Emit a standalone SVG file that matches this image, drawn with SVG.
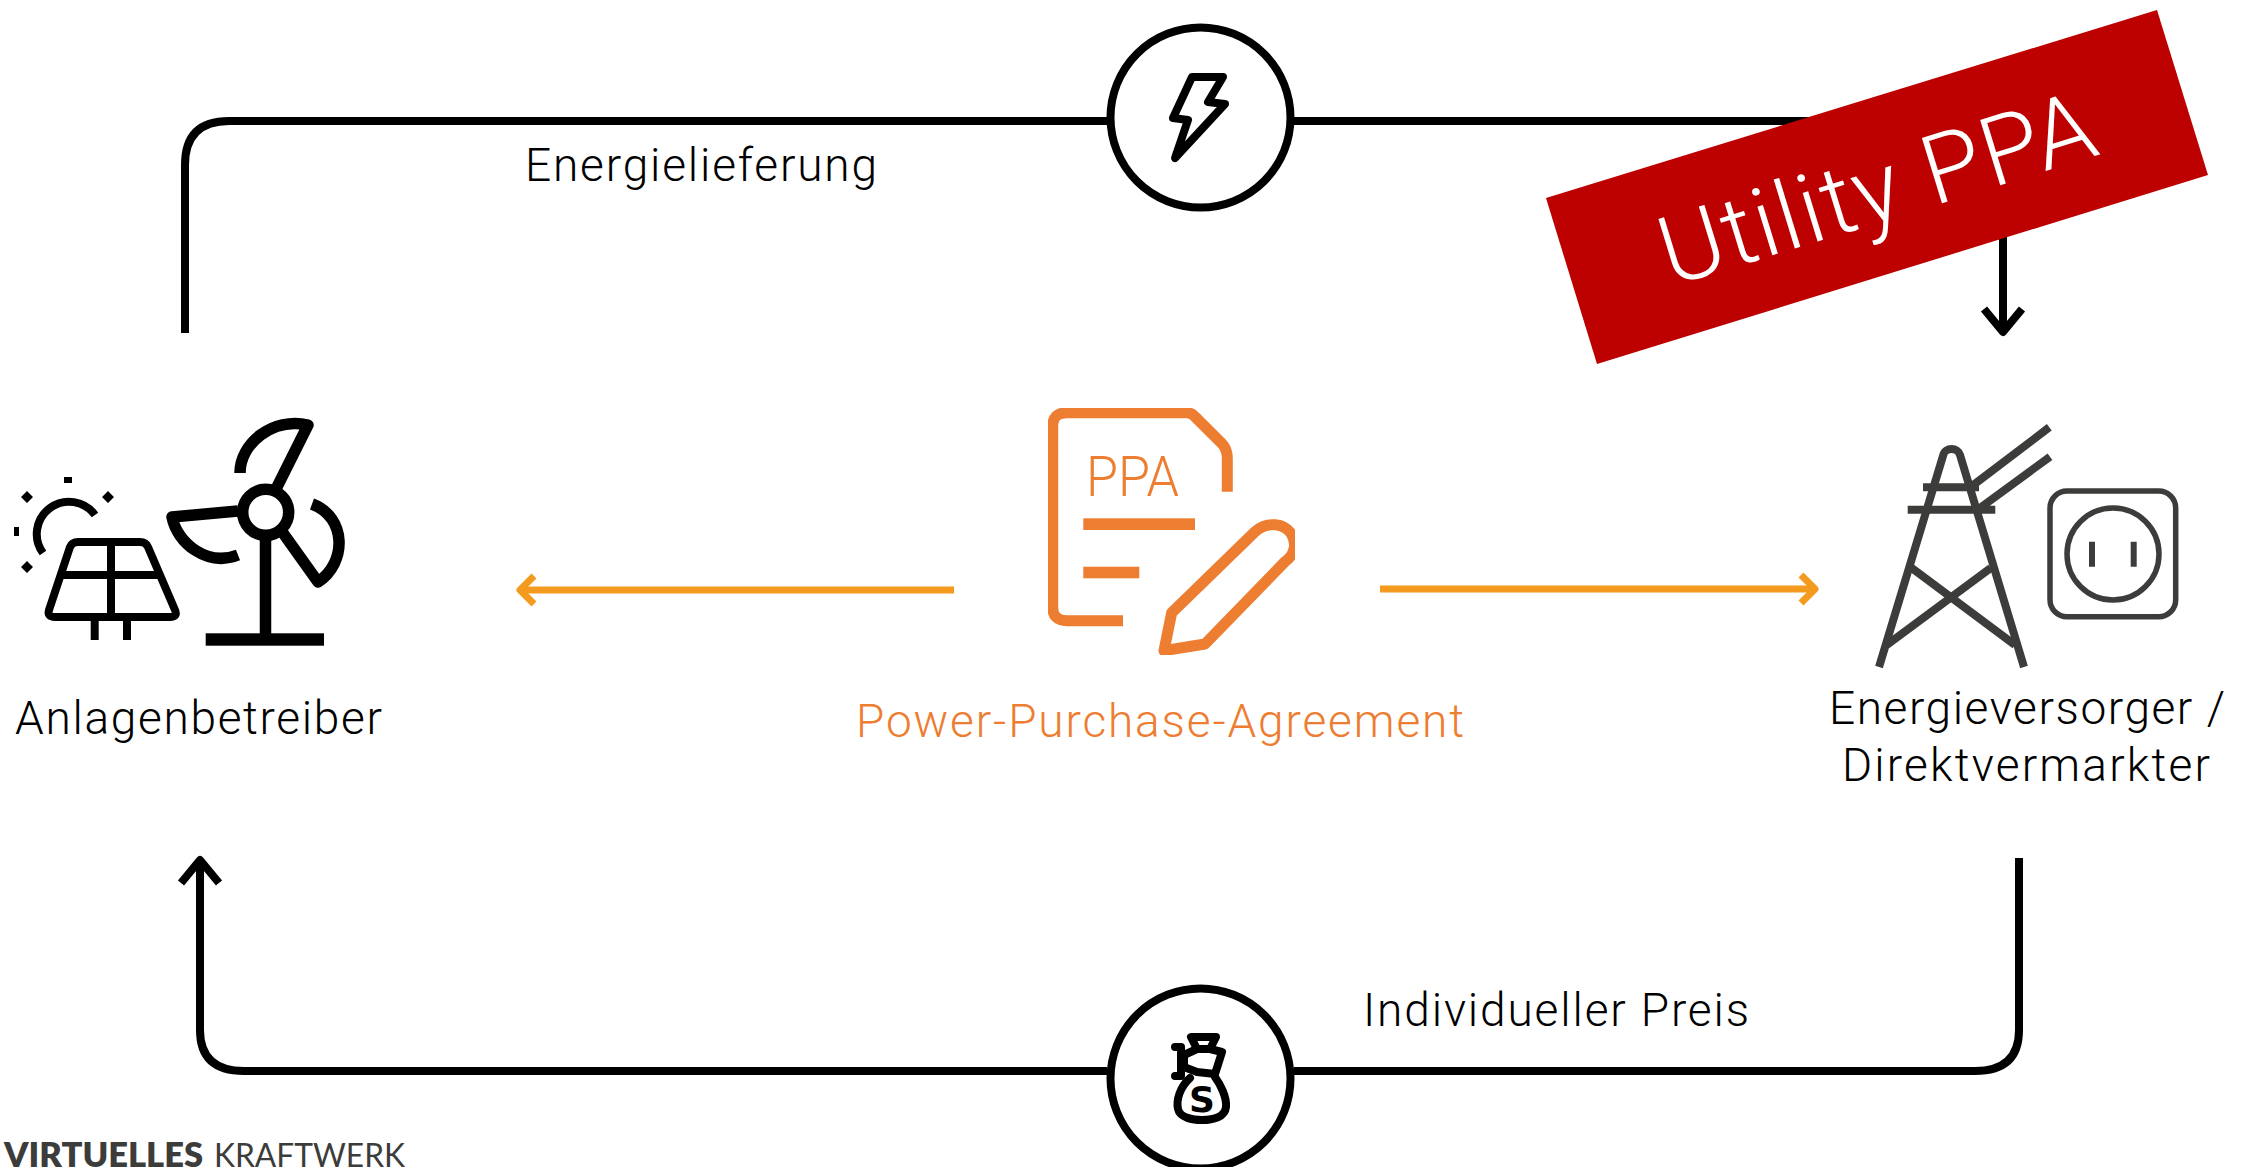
<svg xmlns="http://www.w3.org/2000/svg" width="2255" height="1167" viewBox="0 0 2255 1167">
<style>
.lbl{font-family:Roboto,"Liberation Sans",sans-serif;font-weight:300;font-size:46px;fill:#000}
.or{fill:#ed7d31}
.bk{fill:none;stroke:#000;stroke-width:11.500}
.rnd{stroke-linejoin:round;stroke-linecap:round}
.tw{fill:none;stroke:#3c3c3b;stroke-width:8}
.doc{fill:none;stroke:#ed7d31;stroke-width:11}
.conn{fill:none;stroke:#000;stroke-width:8}
.oconn{fill:none;stroke:#f39a1f;stroke-width:7}
.disc{fill:#fff;stroke:#000;stroke-width:8}
</style>
<defs>
<marker id="ah" markerUnits="userSpaceOnUse" markerWidth="60" markerHeight="60" refX="40" refY="30" orient="auto" overflow="visible"><path d="M17,11 L40,30 L17,49" fill="none" stroke="#000" stroke-width="8" stroke-linecap="butt" stroke-linejoin="round"/></marker>
<marker id="ao" markerUnits="userSpaceOnUse" markerWidth="40" markerHeight="40" refX="30" refY="20" orient="auto" overflow="visible"><path d="M16,6 L30,20 L16,34" fill="none" stroke="#f39a1f" stroke-width="7" stroke-linejoin="round"/></marker>
<clipPath id="docclip"><rect x="1048" y="408" width="247" height="247"/></clipPath>
</defs>
<g id="connectors">
<path class="conn" d="M185,333 V165 Q185,121 229,121 H1107 M1294,121 H1960 Q2003,121 2003,164 V332" marker-end="url(#ah)"/>
<path class="conn" d="M2019,858 V1030 Q2019,1071 1975,1071 H1294 M1107,1071 H244 Q200,1071 200,1030 V860" marker-end="url(#ah)"/>
<path class="oconn" d="M954,590 H520" marker-end="url(#ao)"/>
<path class="oconn" d="M1380,589 H1815" marker-end="url(#ao)"/>
</g>
<g id="node-energie">
<circle class="disc" cx="1200.5" cy="117.5" r="90"/>
<path class="rnd" fill="none" stroke="#000" stroke-width="8" d="M1192,77 L1223,77 L1208,102 L1225,104 L1175,158 L1188,120 L1173,118 Z"/>
<text class="lbl" x="525" y="181" textLength="352">Energielieferung</text>
</g>
<g id="node-preis">
<circle class="disc" cx="1200.5" cy="1078.5" r="90"/>
<g class="rnd" fill="none" stroke="#000" stroke-width="8">
<path d="M1191,1037 H1216 L1210,1049 H1197 Z"/>
<path d="M1175,1047 H1181 V1076 H1175"/>
<path d="M1197,1049 L1184,1055 V1067 L1197,1072 L1215,1074 L1222,1052 L1210,1049"/>
<path d="M1190,1078 C1180,1087 1176,1100 1178,1109 C1180,1118 1193,1120 1202,1120 C1213,1120 1225,1117 1226,1107 C1227,1097 1220,1084 1215,1077"/>
</g>
<text x="1202" y="1112" text-anchor="middle" font-family="'DejaVu Sans',sans-serif" font-weight="700" font-size="36" fill="#000">S</text>
<text class="lbl" x="1363" y="1026" textLength="386">Individueller Preis</text>
</g>
<g id="node-anlagen">
<g class="bk">
<path d="M240,473 C240,443 273,417 308,425 L277,487" stroke-linejoin="round"/>
<path d="M238,511 L172,517 C177,543 207,567 238,555" stroke-linejoin="round"/>
<path d="M283,533 L318,582 C347,563 347,517 312,504" stroke-linejoin="round"/>
<circle cx="265.700" cy="512.300" r="23"/>
<path d="M265.500,538 V634"/>
</g>
<rect x="205.700" y="633.300" width="118.300" height="12.400"/>
<g fill="none" stroke="#000" stroke-width="8">
<path d="M78,542 H140 Q146,542 148,547 L175,610 Q178,617 170,617 H55 Q47,617 49,610 L70,547 Q72,542 78,542 Z" stroke-linejoin="round"/>
<path d="M111,542 V617 M63,575 H158 M94.700,617 V640 M127,617 V640"/>
<path d="M95,515 A32,32 0 1 0 43,553"/>
</g>
<rect x="64" y="477" width="8" height="6"/>
<rect x="14" y="527" width="5" height="9"/>
<path d="M27,491 L33,497 L27,503 L21,497 Z M108,491 L114,497 L108,503 L102,497 Z M27,561 L33,567 L27,573 L21,567 Z"/>
<text class="lbl" x="15" y="734" textLength="367">Anlagenbetreiber</text>
</g>
<g id="node-ppa">
<g clip-path="url(#docclip)">
<path class="doc" d="M1123,620.700 H1066.700 Q1052.700,620.700 1052.700,606.700 V426.700 Q1052.700,412.700 1066.700,412.700 H1186.700 Q1191.700,412.700 1195,416.700 L1221.700,443.300 Q1227.300,449.300 1227.300,458.300 V491.700"/>
<path class="doc" stroke-linejoin="round" d="M1164,650.700 L1171.700,612.700 L1255,531.700 C1266.700,521 1285,523 1292,535 C1297,545 1294,555 1285,561.700 L1205,644 Z"/>
</g>
<rect class="or" x="1083.300" y="518.300" width="111.700" height="11.700"/>
<rect class="or" x="1083.300" y="566.700" width="56" height="11.600"/>
<text x="1086" y="496" font-family="Roboto,'Liberation Sans',sans-serif" font-weight="300" font-size="56" class="or" textLength="93" lengthAdjust="spacingAndGlyphs">PPA</text>
<text class="lbl or" style="fill:#ed7d31" x="856" y="737" textLength="608">Power-Purchase-Agreement</text>
</g>
<g id="node-versorger">
<g class="tw">
<path d="M1879,667 L1943.300,455 C1945,447 1958,447 1960,455 L2024,667"/>
<path d="M1923,487.300 H1979 M1907.700,509.700 H1995.300 M1973.300,485 L2049.300,427.300 M1980,508 L2050,456.700 M1911.700,568 L2015,645 M1990.700,568 L1886.700,645"/>
</g>
<rect x="2050" y="491" width="125.700" height="125.700" rx="17" fill="none" stroke="#3c3c3b" stroke-width="5.500"/>
<circle cx="2113" cy="554" r="46" fill="none" stroke="#3c3c3b" stroke-width="5.500"/>
<path d="M2092,541.700 V566.700 M2133.700,541.700 V566.700" fill="none" stroke="#3c3c3b" stroke-width="6"/>
<text class="lbl" x="1829" y="724" textLength="396">Energieversorger /</text>
<text class="lbl" x="1842" y="781" textLength="368">Direktvermarkter</text>
</g>
<g id="footer" font-family="Lato,'Open Sans',sans-serif" font-size="33" fill="#3c3c3b">
<text x="4" y="1167" font-weight="800" textLength="199" lengthAdjust="spacingAndGlyphs">VIRTUELLES</text>
<text x="214" y="1167" textLength="191" lengthAdjust="spacingAndGlyphs">KRAFTWERK</text>
</g>
<g id="badge">
<polygon points="1546,198 2157,10 2208,175 1597,364" fill="#bd0000"/>
<text x="1880" y="196" transform="rotate(-17.100 1880 196)" dy="25" text-anchor="middle" font-family="Roboto,'Liberation Sans',sans-serif" font-weight="300" font-size="96" letter-spacing="2" fill="#fff">Utility PPA</text>
</g>
</svg>
